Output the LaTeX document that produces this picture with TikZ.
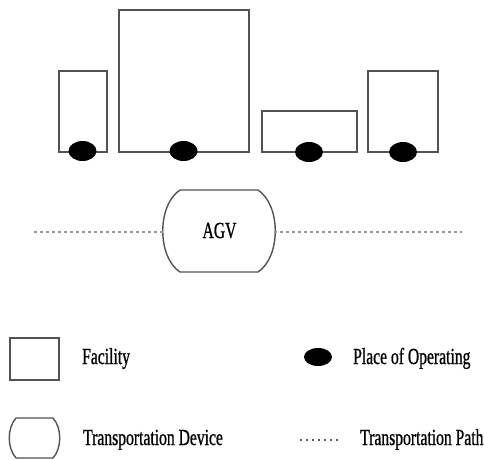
\documentclass[tikz,border=0pt]{standalone}
\usepackage{fontspec}
\setmainfont{Liberation Serif}
\newfontfamily\narrowfont[FakeStretch=0.68,FakeBold=0.8]{Liberation Serif}
\usetikzlibrary{shapes.geometric}
\begin{document}
\begin{tikzpicture}[x=1pt,y=-1pt,
  facility/.style={draw=black!68,line width=1.4pt,minimum width=#1,inner sep=0pt,outer sep=0pt},
  opplace/.style={fill=black,ellipse,minimum width=28pt,minimum height=20pt,inner sep=0pt},
  tpath/.style={draw=black!40,line width=2.6pt,dash pattern=on 2.6pt off 3.4pt},
  dev/.style={draw=black!68,line width=1.4pt},
  lbl/.style={font=\narrowfont\fontsize{23}{25}\selectfont,anchor=base west,inner sep=0pt}]
\useasboundingbox (0,0) rectangle (484,459);
% facilities
\node[facility=48pt,minimum height=81pt] (f1) at (83,111.5) {};
\node[facility=130pt,minimum height=142pt] (f2) at (184,81) {};
\node[facility=95pt,minimum height=41pt] (f3) at (309.5,131.5) {};
\node[facility=70pt,minimum height=81pt] (f4) at (403,111.5) {};
% places of operating
\node[opplace] (o1) at (82.5,151) {};
\node[opplace] (o2) at (183.5,151) {};
\node[opplace] (o3) at (309,152) {};
\node[opplace] (o4) at (403,152) {};
% AGV
\coordinate (pl) at (34,232);
\coordinate (pr) at (462,232);
\draw[dev] (180,190) -- (258,190) .. controls (281,205) and (281,257) .. (258,272)
  -- (180,272) .. controls (157,257) and (157,205) .. (180,190);
\node[inner sep=0pt,anchor=base,font=\narrowfont\fontsize{23}{25}\selectfont] (agv) at (219.5,238) {AGV};
\coordinate (al) at (165,232);
\coordinate (ar) at (274,232);
\draw[tpath] (pl) -- (al);
\draw[tpath] (ar) -- (pr);
% legend
\node[facility=49pt,minimum height=42pt] (lf) at (34.5,359) {};
\node[lbl] (tf) at (82,364) {Facility};
\node[opplace,minimum height=18pt] (lo) at (318,357) {};
\node[lbl] (to) at (353,364) {Place of Operating};
\draw[dev] (16,418) -- (53,418) .. controls (62,428) and (62,448) .. (53,458)
  -- (16,458) .. controls (7,448) and (7,428) .. (16,418);
\node[lbl] (td) at (83,445) {Transportation Device};
\coordinate (lp1) at (300,440);
\coordinate (lp2) at (339,440);
\draw[tpath,draw=black!65,line width=2pt,dash pattern=on 2pt off 4pt] (lp1) -- (lp2);
\node[lbl] (tp) at (360,445) {Transportation Path};
\end{tikzpicture}
\end{document}
